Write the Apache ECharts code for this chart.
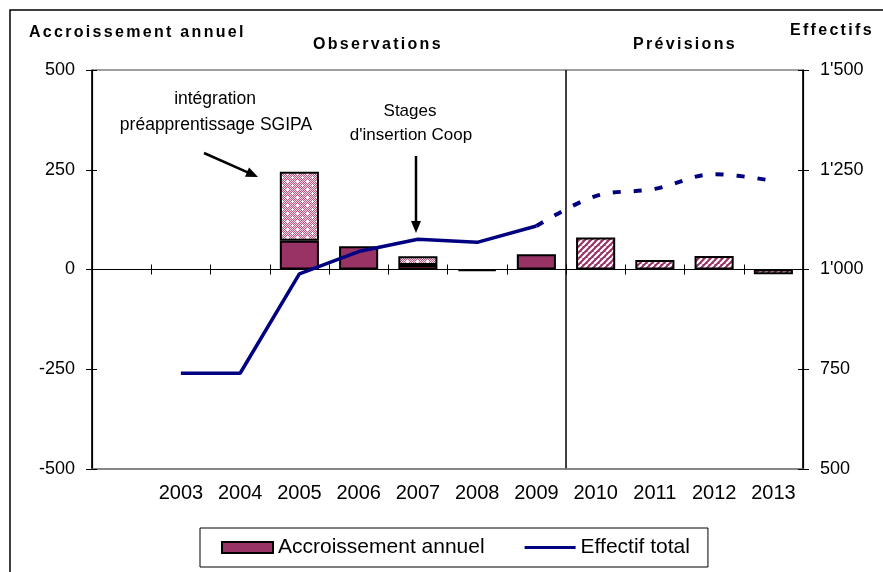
<!DOCTYPE html>
<html><head><meta charset="utf-8">
<script src="https://cdn.jsdelivr.net/npm/echarts@6/dist/echarts.min.js"></script>
<style>html,body{margin:0;padding:0;background:#fff}#c{width:883px;height:572px}</style>
</head><body><div id="c"></div>
<script>
// ---- data ----
const categories = ['', '2003', '2004', '2005', '2006', '2007', '2008', '2009', '2010', '2011', '2012', '2013'];
const accroissement = [null, null, null, 72, 58, 11, -4, 38, null, null, null, null];
const integrations = [null, null, null, 173, null, 22, null, null, null, null, null, null];
const accroissementPrevu = [null, null, null, null, null, null, null, null, 80, 24, 34, -12];
const effectifObserve = [null, 740, 740, 989, 1045, 1076, 1068, 1109, null, null, null, null];
const effectifPrevu = [null, null, null, null, null, null, null, 1109, 1184, 1202, 1239, 1222];
const leftAxis = { min: -500, max: 500, interval: 250 };
const rightAxis = { min: 500, max: 1500, interval: 250 };
const dividerIndex = 8; // start of "Prévisions" (category boundary)

const FONT = '"Liberation Sans", Arial, sans-serif';
const MAROON = '#993366';
const NAVY = '#000080';

function hatchPattern() {
  const s = 6, c = document.createElement('canvas');
  c.width = c.height = s;
  const g = c.getContext('2d');
  g.fillStyle = MAROON; g.fillRect(0, 0, s, s);
  g.strokeStyle = '#ffffff'; g.lineWidth = 2.2;
  g.beginPath();
  for (let k = -s; k <= 2 * s; k += s) { g.moveTo(k, s); g.lineTo(k + s, 0); }
  g.stroke();
  return c;
}
function dotPattern() {
  const w = 10, h = 8, c = document.createElement('canvas');
  c.width = w; c.height = h;
  const g = c.getContext('2d');
  for (let y = 0; y < h; y++) for (let x = 0; x < w; x++) {
    g.fillStyle = ((x + y) % 2) ? '#b85a88' : '#f2d6e4';
    g.fillRect(x, y, 1, 1);
  }
  g.fillStyle = '#ffffff';
  [[2, 1], [7, 5]].forEach(([x, y]) => {
    g.fillRect(x, y, 1, 1); g.fillRect(x - 1, y, 1, 1); g.fillRect(x + 1, y, 1, 1);
    g.fillRect(x, y - 1, 1, 1); g.fillRect(x, y + 1, 1, 1);
  });
  return c;
}

function fmtThousands(v) {
  const s = String(v);
  return s.length > 3 ? s.slice(0, s.length - 3) + "'" + s.slice(-3) : s;
}

function arrowHead(tip, from, len, half) {
  const dx = tip[0] - from[0], dy = tip[1] - from[1];
  const d = Math.hypot(dx, dy), ux = dx / d, uy = dy / d;
  const bx = tip[0] - ux * len, by = tip[1] - uy * len;
  return [tip, [bx - uy * half, by + ux * half], [bx + uy * half, by - ux * half]];
}

const chart = echarts.init(document.getElementById('c'), null, { renderer: 'canvas' });

const baseX = { type: 'category', data: categories, boundaryGap: true, gridIndex: 0 };
const arrow1From = [204, 153], arrow1Tip = [258, 177];
const arrow2From = [416, 156], arrow2Tip = [416, 233];

const txt = (text, x, y, font) => ({ type: 'text', x, y, style: { text, fill: '#000', font, align: 'center', verticalAlign: 'middle', textAlign: 'center', textVerticalAlign: 'middle' } });
// headers: left aligned, drawn on their own layer (letter-spaced)
const HEAD_LAYER = 5;
const head = (text, x, y) => ({ type: 'text', x, y, zlevel: HEAD_LAYER, style: { text, fill: '#000', font: 'bold 16px ' + FONT, align: 'left', verticalAlign: 'middle', textAlign: 'left', textVerticalAlign: 'middle' } });

chart.setOption({
  animation: false,
  backgroundColor: '#ffffff',
  textStyle: { fontFamily: FONT },
  grid: { left: 92, right: 80, top: 70, bottom: 103, show: true, borderColor: '#808080', borderWidth: 1.5, backgroundColor: 'transparent' },
  xAxis: [
    Object.assign({}, baseX, {
      position: 'bottom',
      axisLine: { onZero: false, lineStyle: { color: '#808080', width: 1.5 } },
      axisTick: { show: false },
      axisLabel: { color: '#000', fontSize: 20, fontFamily: FONT, margin: 14, interval: 0 },
      splitLine: { show: false }
    }),
    Object.assign({}, baseX, {
      position: 'bottom',
      axisLine: { onZero: true, onZeroAxisIndex: 0, lineStyle: { color: '#000', width: 1 } },
      axisTick: { show: true, inside: true, length: 5, interval: 0, lineStyle: { color: '#000', width: 1 } },
      axisLabel: { show: false },
      splitLine: { show: false }
    }),
    Object.assign({}, baseX, {
      position: 'bottom',
      axisLine: { onZero: true, onZeroAxisIndex: 0, lineStyle: { color: '#000', width: 1 } },
      axisTick: { show: true, inside: false, length: 5, interval: 0, lineStyle: { color: '#000', width: 1 } },
      axisLabel: { show: false },
      splitLine: { show: false }
    }),
    {
      // hidden index axis carrying the Observations / Prévisions divider
      type: 'value', gridIndex: 0, position: 'top', min: 0, max: categories.length, interval: dividerIndex,
      axisLine: { show: false }, axisTick: { show: false }, axisLabel: { show: false },
      splitLine: { show: true, lineStyle: { color: '#000', width: 1.5 } }
    }
  ],
  yAxis: [
    {
      type: 'value', position: 'left', min: leftAxis.min, max: leftAxis.max, interval: leftAxis.interval,
      axisLine: { show: true, lineStyle: { color: '#000', width: 1.2 } },
      axisTick: { show: true, length: 6, lineStyle: { color: '#000' } },
      axisLabel: { color: '#000', fontSize: 18, fontFamily: FONT, margin: 17 },
      splitLine: { show: false }
    },
    {
      type: 'value', position: 'right', min: rightAxis.min, max: rightAxis.max, interval: rightAxis.interval,
      axisLine: { show: true, lineStyle: { color: '#000', width: 1.2 } },
      axisTick: { show: true, length: 6, lineStyle: { color: '#000' } },
      axisLabel: { color: '#000', fontSize: 18, fontFamily: FONT, margin: 17, formatter: fmtThousands },
      splitLine: { show: false }
    },
    {
      type: 'value', position: 'left', min: leftAxis.min, max: leftAxis.max, interval: leftAxis.interval,
      axisLine: { show: false }, axisTick: { show: true, inside: true, length: 5, lineStyle: { color: '#000' } },
      axisLabel: { show: false }, splitLine: { show: false }
    },
    {
      type: 'value', position: 'right', min: rightAxis.min, max: rightAxis.max, interval: rightAxis.interval,
      axisLine: { show: false }, axisTick: { show: true, inside: true, length: 5, lineStyle: { color: '#000' } },
      axisLabel: { show: false }, splitLine: { show: false }
    }
  ],
  legend: {
    left: 200, top: 528, width: 511, height: 38,
    padding: [9, 18, 9, 21],
    itemGap: 40, itemWidth: 51, itemHeight: 11,
    borderColor: '#000', borderWidth: 1,
    backgroundColor: '#fff',
    textStyle: { fontSize: 21, color: '#000', fontFamily: FONT },
    data: [
      { name: 'Accroissement annuel', icon: 'rect', itemStyle: { color: MAROON, borderColor: '#000', borderWidth: 2 } },
      { name: 'Effectif total', icon: 'path://M0,0 L51,0 L51,3 L0,3 Z', itemStyle: { color: NAVY } }
    ],
    selectedMode: false
  },
  series: [
    {
      name: 'Accroissement annuel', type: 'bar', stack: 'a', data: accroissement, barWidth: '66%',
      itemStyle: { color: MAROON, borderColor: '#000', borderWidth: 2 }, z: 2
    },
    {
      name: 'Intégrations', type: 'bar', stack: 'a', data: integrations, barWidth: '66%',
      itemStyle: { color: { image: dotPattern(), repeat: 'repeat' }, borderColor: '#000', borderWidth: 2 }, z: 2
    },
    {
      name: 'Accroissement prévu', type: 'bar', stack: 'a', data: accroissementPrevu, barWidth: '66%',
      itemStyle: { color: { image: hatchPattern(), repeat: 'repeat' }, borderColor: '#000', borderWidth: 2 }, z: 2
    },
    {
      name: 'Effectif total', type: 'line', yAxisIndex: 1, data: effectifObserve, symbol: 'none',
      lineStyle: { color: NAVY, width: 3.5 }, itemStyle: { color: NAVY }, z: 4
    },
    {
      name: 'Effectif prévu', type: 'line', yAxisIndex: 1, data: effectifPrevu, symbol: 'none', smooth: 0.35,
      lineStyle: { color: NAVY, width: 4, type: [8, 13] }, itemStyle: { color: NAVY }, z: 4
    }
  ],
  graphic: [
    { type: 'rect', shape: { x: 10, y: 10, width: 900, height: 600 }, style: { fill: 'none', stroke: '#000', lineWidth: 1.5 }, silent: true, z: 10 },
    head('Accroissement annuel', 29, 33),
    head('Observations', 313, 45),
    head('Prévisions', 633, 45),
    head('Effectifs', 790, 31),
    txt('intégration', 215, 99, '17.5px ' + FONT),
    txt('préapprentissage SGIPA', 216, 125, '17.5px ' + FONT),
    txt('Stages', 410, 111, '17px ' + FONT),
    txt("d'insertion Coop", 411, 135, '17px ' + FONT),
    { type: 'line', shape: { x1: arrow1From[0], y1: arrow1From[1], x2: arrow1Tip[0] - 8, y2: arrow1Tip[1] - 3.6 }, style: { stroke: '#000', lineWidth: 2.5 } },
    { type: 'polygon', shape: { points: arrowHead(arrow1Tip, arrow1From, 12, 5) }, style: { fill: '#000' } },
    { type: 'line', shape: { x1: arrow2From[0], y1: arrow2From[1], x2: arrow2Tip[0], y2: arrow2Tip[1] - 9 }, style: { stroke: '#000', lineWidth: 2.5 } },
    { type: 'polygon', shape: { points: arrowHead(arrow2Tip, arrow2From, 12, 5) }, style: { fill: '#000' } }
  ]
});

// Letter-spacing for the bold headers (their own canvas layer)
try {
  const zr = chart.getZr();
  zr.flush();
  const layer = zr.painter.getLayer(HEAD_LAYER);
  if (layer && layer.ctx && 'letterSpacing' in layer.ctx) {
    layer.ctx.letterSpacing = '2.3px';
    zr.painter.refresh(true);
  }
} catch (e) { /* keep default spacing */ }
</script>
</body></html>
